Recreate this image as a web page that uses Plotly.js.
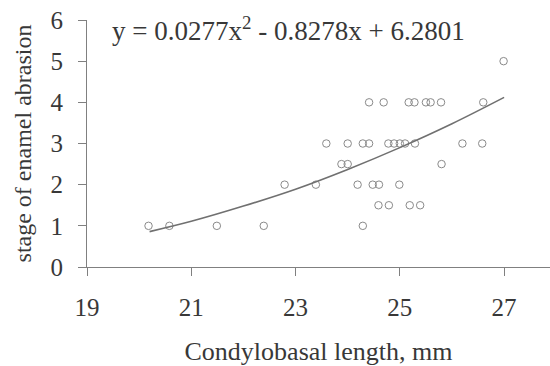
<!DOCTYPE html>
<html>
<head>
<meta charset="utf-8">
<script src="https://cdn.plot.ly/plotly-3.0.1.min.js"></script>
<style>html,body{margin:0;padding:0;background:#fff;}#chart{width:550px;height:366px;}</style>
</head>
<body>
<div id="chart"></div>
<script>
// Observed data points (condylobasal length, mm ; stage of enamel abrasion)
const lengthMm = [
  20.18, 20.58, 21.49, 22.39, 24.29,
  24.59, 24.79, 25.19, 25.39,
  22.79, 23.39, 24.19, 24.48, 24.60, 24.99,
  23.88, 24.00, 25.80,
  23.59, 24.00, 24.29, 24.41, 24.78, 24.89, 25.00, 25.10, 25.29, 26.20, 26.58,
  24.41, 24.69, 25.17, 25.28, 25.50, 25.59, 25.79, 26.60,
  26.99
];
const abrasionStage = [
  1, 1, 1, 1, 1,
  1.5, 1.5, 1.5, 1.5,
  2, 2, 2, 2, 2, 2,
  2.5, 2.5, 2.5,
  3, 3, 3, 3, 3, 3, 3, 3, 3, 3, 3,
  4, 4, 4, 4, 4, 4, 4, 4,
  5
];
// Trend curve
const trendX = [20.2, 21, 22, 23, 24, 25, 26, 27];
const trendY = [0.86, 1.11, 1.48, 1.89, 2.37, 2.90, 3.48, 4.12];
const xTicks = [19, 21, 23, 25, 27];
const yTicks = [0, 1, 2, 3, 4, 5, 6];
const equationText = "y = 0.0277x<sup>2</sup> - 0.8278x + 6.2801";

const font = "Liberation Serif, Times New Roman, serif";
const axisColor = "#808080";
const textColor = "#383838";

const traces = [
  {
    x: lengthMm, y: abrasionStage, type: "scatter", mode: "markers",
    marker: {symbol: "circle-open", size: 7.5, color: "#8a8a8a", line: {width: 1, color: "#8a8a8a"}},
    hoverinfo: "skip"
  },
  {
    x: trendX, y: trendY, type: "scatter", mode: "lines",
    line: {color: "#707070", width: 1.6, shape: "spline"},
    hoverinfo: "skip"
  }
];

const layout = {
  width: 550, height: 366,
  margin: {l: 87, r: 0, t: 20, b: 99, pad: 0},
  paper_bgcolor: "#ffffff", plot_bgcolor: "#ffffff",
  showlegend: false,
  font: {family: font, size: 25, color: textColor},
  xaxis: {
    range: [19, 27.88], tickvals: xTicks, ticktext: xTicks.map(String),
    showgrid: false, zeroline: false, showline: true, linecolor: axisColor, linewidth: 1,
    ticks: "outside", ticklen: 8, tickcolor: axisColor, tickwidth: 1,
    ticklabelstandoff: 10,
    tickfont: {family: font, size: 25, color: textColor},
    title: {text: "Condylobasal length, mm", font: {family: font, size: 26, color: textColor}, standoff: 21}
  },
  yaxis: {
    range: [0, 6], tickvals: yTicks, ticktext: yTicks.map(String),
    showgrid: false, zeroline: false, showline: true, linecolor: axisColor, linewidth: 1,
    ticks: "outside", ticklen: 8, tickcolor: axisColor, tickwidth: 1,
    ticklabelstandoff: 10,
    tickfont: {family: font, size: 25, color: textColor},
    title: {text: "stage of enamel abrasion", font: {family: font, size: 24, color: textColor}, standoff: 12}
  },
  annotations: [{
    x: 19.45, y: 5.78, xref: "x", yref: "y", xanchor: "left", yanchor: "middle",
    text: equationText, showarrow: false,
    font: {family: font, size: 27, color: textColor}
  }]
};

Plotly.newPlot("chart", traces, layout, {displayModeBar: false, staticPlot: true});
</script>
</body>
</html>
